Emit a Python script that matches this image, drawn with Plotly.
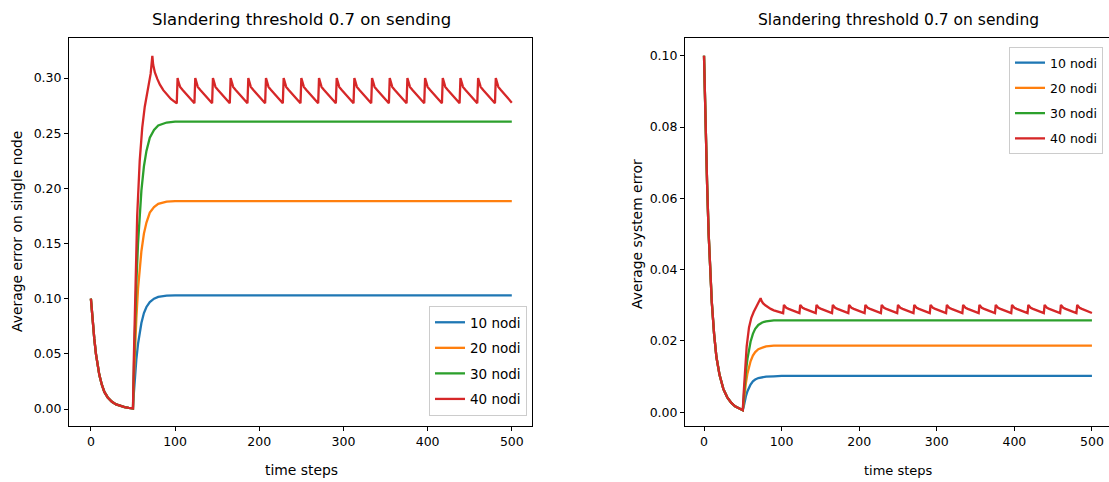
import plotly.graph_objects as go

# ---------------- data ----------------
SERIES_NAMES = ["10 nodi", "20 nodi", "30 nodi", "40 nodi"]
COLORS = ["#1f77b4", "#ff7f0e", "#2ca02c", "#d62728"]

# common initial decay (t = 0..50), identical on both panels
T_DECAY = [0, 1, 2, 3, 4, 6, 8, 10, 13, 16, 20, 25, 30, 35, 40, 45, 50]
V_DECAY = [0.100, 0.090, 0.080, 0.072, 0.064, 0.050, 0.039, 0.031, 0.022,
           0.0155, 0.0105, 0.0065, 0.0042, 0.0027, 0.0017, 0.0011, 0.0006]

# rise after t = 50 for 10/20/30 nodi
T_RISE = [51, 52, 54, 56, 58, 60, 63, 66, 70, 75, 80, 90, 100, 500]
L_BLUE = [0.014, 0.026, 0.045, 0.059, 0.070, 0.078, 0.087, 0.0925, 0.097, 0.100, 0.1016, 0.1027, 0.103, 0.103]
L_ORANGE = [0.026, 0.048, 0.082, 0.109, 0.128, 0.143, 0.159, 0.169, 0.178, 0.183, 0.186, 0.188, 0.1885, 0.1885]
L_GREEN = [0.035, 0.066, 0.114, 0.150, 0.177, 0.198, 0.220, 0.234, 0.246, 0.253, 0.257, 0.2597, 0.2605, 0.2605]
R_BLUE = [0.0014, 0.0026, 0.0045, 0.0059, 0.0070, 0.0078, 0.0087, 0.0092, 0.0096, 0.0099, 0.0100, 0.0101, 0.0102, 0.0102]
R_ORANGE = [0.0026, 0.0048, 0.0082, 0.0109, 0.0128, 0.0143, 0.0159, 0.0169, 0.0177, 0.0182, 0.0185, 0.0187, 0.0187, 0.0187]
R_GREEN = [0.0035, 0.0066, 0.0114, 0.0150, 0.0177, 0.0198, 0.0220, 0.0234, 0.0245, 0.0252, 0.0255, 0.0258, 0.0258, 0.0258]

# 40 nodi: rise, first peak, then sawtooth
T_RED_RISE = [51, 52, 53, 55, 58, 61, 64, 67, 69, 70, 71, 72, 73, 74, 76, 79, 82, 86, 90, 95, 102]
L_RED_RISE = [0.045, 0.085, 0.120, 0.175, 0.225, 0.255, 0.274, 0.287, 0.294, 0.298, 0.304, 0.312, 0.320,
              0.312, 0.305, 0.299, 0.294, 0.289, 0.285, 0.281, 0.2770]
R_RED_RISE = [0.0050, 0.0092, 0.0128, 0.0185, 0.0238, 0.0265, 0.0281, 0.0293, 0.0300, 0.0304, 0.0308, 0.0313, 0.0320,
              0.0313, 0.0306, 0.0300, 0.0295, 0.0290, 0.0286, 0.0282, 0.0278]
RED_PEAKS = [103, 124, 145, 166, 187, 208, 229, 250, 271, 292, 313, 334, 355, 376, 397, 418, 439, 460, 481]
TOOTH_OFFSETS = [0, 1, 2, 3, 6, 10, 14, 20]
L_TOOTH = [0.300, 0.2965, 0.294, 0.292, 0.2892, 0.2855, 0.2823, 0.2772]
R_TOOTH = [0.0301, 0.02975, 0.0295, 0.0293, 0.0290, 0.02865, 0.0283, 0.0278]
T_END = 500
L_RED_END = 0.2777
R_RED_END = 0.02785

X_TICKS = [0, 100, 200, 300, 400, 500]
L_Y_TICKS = [0.00, 0.05, 0.10, 0.15, 0.20, 0.25, 0.30]
R_Y_TICKS = [0.00, 0.02, 0.04, 0.06, 0.08, 0.10]

TITLE = "Slandering threshold 0.7 on sending"
L_YLABEL = "Average error on single node"
R_YLABEL = "Average system error"
XLABEL = "time steps"


def red_series(rise_vals, tooth_vals, end_val):
    xs = list(T_DECAY) + list(T_RED_RISE)
    ys = list(V_DECAY) + list(rise_vals)
    for p in RED_PEAKS:
        for off, v in zip(TOOTH_OFFSETS, tooth_vals):
            if p + off < T_END:
                xs.append(p + off)
                ys.append(v)
    xs.append(T_END)
    ys.append(end_val)
    return xs, ys


def simple_series(rise_vals):
    return list(T_DECAY) + list(T_RISE), list(V_DECAY) + list(rise_vals)


FONT = "DejaVu Sans"
W, H = 1109, 482
TOP, BOTTOM = 38, 426
PH = BOTTOM - TOP

fig = go.Figure()

panels = [
    ("x", "y", "legend", [L_BLUE, L_ORANGE, L_GREEN], (L_RED_RISE, L_TOOTH, L_RED_END)),
    ("x2", "y2", "legend2", [R_BLUE, R_ORANGE, R_GREEN], (R_RED_RISE, R_TOOTH, R_RED_END)),
]
for xa, ya, lg, simple, red in panels:
    for i in range(4):
        if i < 3:
            xs, ys = simple_series(simple[i])
        else:
            xs, ys = red_series(*red)
        fig.add_trace(go.Scatter(
            x=xs, y=ys, mode="lines", name=SERIES_NAMES[i],
            line=dict(color=COLORS[i], width=2.3),
            xaxis=xa, yaxis=ya, legend=lg, legendgroup=f"{lg}{i}",
        ))

axis_common = dict(
    showline=True, linecolor="black", linewidth=1, mirror=True,
    ticks="outside", ticklen=4, tickcolor="black", tickwidth=1,
    showgrid=False, zeroline=False,
    tickfont=dict(family=FONT, size=12.5, color="black"),
)


def px_to_paper_x(px):
    return px / W


def px_to_paper_y(py):
    return (BOTTOM - py) / PH


fig.update_layout(
    width=W, height=H,
    margin=dict(l=0, r=0, t=TOP, b=H - BOTTOM),
    paper_bgcolor="white", plot_bgcolor="white",
    font=dict(family=FONT, color="black"),
    xaxis=dict(domain=[69 / W, 532 / W], range=[-26, 524], tickvals=X_TICKS, anchor="y", **axis_common),
    yaxis=dict(domain=[0, 1], range=[-0.0154, 0.3363], tickvals=L_Y_TICKS, tickformat=".2f", anchor="x", **axis_common),
    xaxis2=dict(domain=[685 / W, 1.0], range=[-24.5, 522], tickvals=X_TICKS, anchor="y2", **axis_common),
    yaxis2=dict(domain=[0, 1], range=[-0.00384, 0.10496], tickvals=R_Y_TICKS, tickformat=".2f", anchor="x2", **axis_common),
    legend=dict(
        x=px_to_paper_x(527), y=px_to_paper_y(416), xanchor="right", yanchor="bottom",
        bordercolor="#cccccc", borderwidth=1, bgcolor="rgba(255,255,255,0.8)",
        font=dict(family=FONT, size=13.5, color="black"), tracegroupgap=5,
    ),
    legend2=dict(
        x=px_to_paper_x(1103), y=px_to_paper_y(47), xanchor="right", yanchor="top",
        bordercolor="#cccccc", borderwidth=1, bgcolor="rgba(255,255,255,0.8)",
        font=dict(family=FONT, size=12.5, color="black"), tracegroupgap=6,
    ),
    showlegend=True,
)

annotations = [
    dict(text=TITLE, x=px_to_paper_x(301), y=px_to_paper_y(20), font=dict(size=16.5)),
    dict(text=TITLE, x=px_to_paper_x(898), y=px_to_paper_y(20), font=dict(size=15.5)),
    dict(text=XLABEL, x=px_to_paper_x(301), y=px_to_paper_y(470), font=dict(size=13.9)),
    dict(text=XLABEL, x=px_to_paper_x(898), y=px_to_paper_y(470), font=dict(size=13)),
    dict(text=L_YLABEL, x=px_to_paper_x(17), y=px_to_paper_y(232), textangle=-90, font=dict(size=13.9)),
    dict(text=R_YLABEL, x=px_to_paper_x(637), y=px_to_paper_y(234), textangle=-90, font=dict(size=13.9)),
]
for a in annotations:
    a.update(xref="paper", yref="paper", xanchor="center", yanchor="middle", showarrow=False)
    a["font"].update(family=FONT, color="black")
fig.update_layout(annotations=annotations)

fig.write_html(
    "out.html",
    config={"displayModeBar": False},
    post_script="document.body.style.margin='0px';document.body.style.overflow='hidden';",
)
